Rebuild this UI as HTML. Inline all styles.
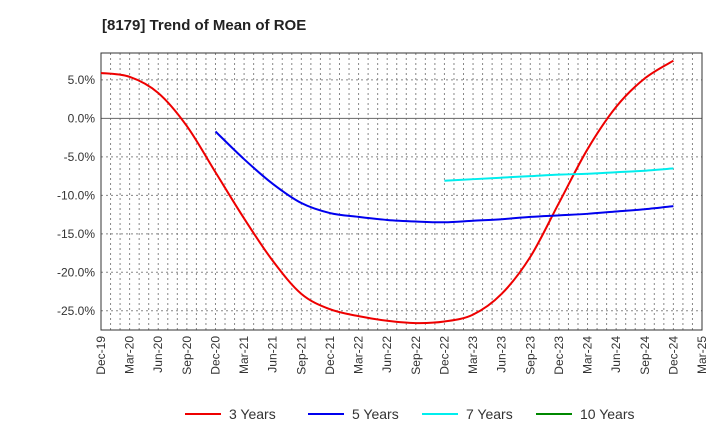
<!DOCTYPE html>
<html><head><meta charset="utf-8"><style>
body{margin:0;background:#fff;font-family:"Liberation Sans",sans-serif}
</style></head><body>
<svg id="c" width="720" height="440" xmlns="http://www.w3.org/2000/svg">
<text x="102" y="30" font-size="15" font-weight="bold" fill="#222">[8179]  Trend of Mean of ROE</text>
<g id="grid"></g><g id="axes"></g><g id="series"></g><g id="legend"></g>
</svg>
<script>
const xLabels=["Dec-19","Mar-20","Jun-20","Sep-20","Dec-20","Mar-21","Jun-21","Sep-21","Dec-21","Mar-22","Jun-22","Sep-22","Dec-22","Mar-23","Jun-23","Sep-23","Dec-23","Mar-24","Jun-24","Sep-24","Dec-24","Mar-25"];
const yTicks=[5,0,-5,-10,-15,-20,-25];
const s3=[5.9,5.4,3.3,-1.0,-7,-13.0,-18.5,-22.8,-24.8,-25.7,-26.3,-26.6,-26.4,-25.5,-22.8,-18,-11,-4,1.5,5.2,7.5];
const s5=[-1.7,-5.3,-8.5,-11,-12.3,-12.8,-13.2,-13.4,-13.5,-13.3,-13.1,-12.8,-12.6,-12.4,-12.1,-11.8,-11.4];
const s5Start=4;
const s7=[-8.1,-7.9,-7.7,-7.5,-7.3,-7.2,-7.0,-6.8,-6.5];
const s7Start=12;
const names=["3 Years","5 Years","7 Years","10 Years"];
const colors=["#ee0000","#0000ee","#00eeee","#008800"];
const L=101,R=702,T=53,B=330,yMax=8.5,yMin=-27.5;
const X=i=>L+(R-L)*i/(xLabels.length-1);
const Y=v=>T+(B-T)*(yMax-v)/(yMax-yMin);
const NS="http://www.w3.org/2000/svg";
function mk(p,t,a){const e=document.createElementNS(NS,t);for(const k in a)e.setAttribute(k,a[k]);p.appendChild(e);return e;}
const g=document.getElementById('grid'),ax=document.getElementById('axes'),se=document.getElementById('series'),lg=document.getElementById('legend');
const bg=mk(g,'rect',{x:L,y:T,width:R-L,height:B-T,fill:'#fff'});


for(let m=1;m<(xLabels.length-1)*3;m++){const x=L+(R-L)*m/((xLabels.length-1)*3);
const l=mk(g,'line',{x1:x,x2:x,y1:T,y2:B,stroke:'#888','stroke-dasharray':'2,3','stroke-width':1});

}
yTicks.forEach(v=>{const y=Y(v);
const l=mk(g,'line',{x1:L,x2:R,y1:y,y2:y,stroke:v===0?'#666':'#888','stroke-dasharray':v===0?'none':'2,3','stroke-width':1});


const t=mk(ax,'text',{x:L-6,y:y+4,'text-anchor':'end','font-size':12,fill:'#333'});t.textContent=v.toFixed(1)+'%';

});
const fr=mk(ax,'rect',{x:L,y:T,width:R-L,height:B-T,fill:'none',stroke:'#333','stroke-width':1});


xLabels.forEach((lab,i)=>{const x=X(i);
const t=mk(ax,'text',{transform:`translate(${x+4},${B+6}) rotate(-90)`,'text-anchor':'end','font-size':12,fill:'#333'});t.textContent=lab;

});
function path(vals,start){const p=vals.map((v,i)=>[X(i+start),Y(v)]);let d=`M${p[0][0]},${p[0][1]}`;
for(let i=0;i<p.length-1;i++){const p0=p[i-1]||p[i],p1=p[i],p2=p[i+1],p3=p[i+2]||p2;
d+=` C${p1[0]+(p2[0]-p0[0])/6},${p1[1]+(p2[1]-p0[1])/6} ${p2[0]-(p3[0]-p1[0])/6},${p2[1]-(p3[1]-p1[1])/6} ${p2[0]},${p2[1]}`;}return d;}
[[s3,0,0,'series-3-years'],[s5,s5Start,1,'series-5-years'],[s7,s7Start,2,'series-7-years']].forEach(([v,st,c,n])=>{
const e=mk(se,'path',{d:path(v,st),fill:'none',stroke:colors[c],'stroke-width':2});

});
const lx=[185,308,422,536];
names.forEach((n,i)=>{
const l=mk(lg,'line',{x1:lx[i],x2:lx[i]+36,y1:414,y2:414,stroke:colors[i],'stroke-width':2});


const t=mk(lg,'text',{x:lx[i]+44,y:419,'font-size':14,fill:'#333'});t.textContent=n;

});
</script>
</body></html>
